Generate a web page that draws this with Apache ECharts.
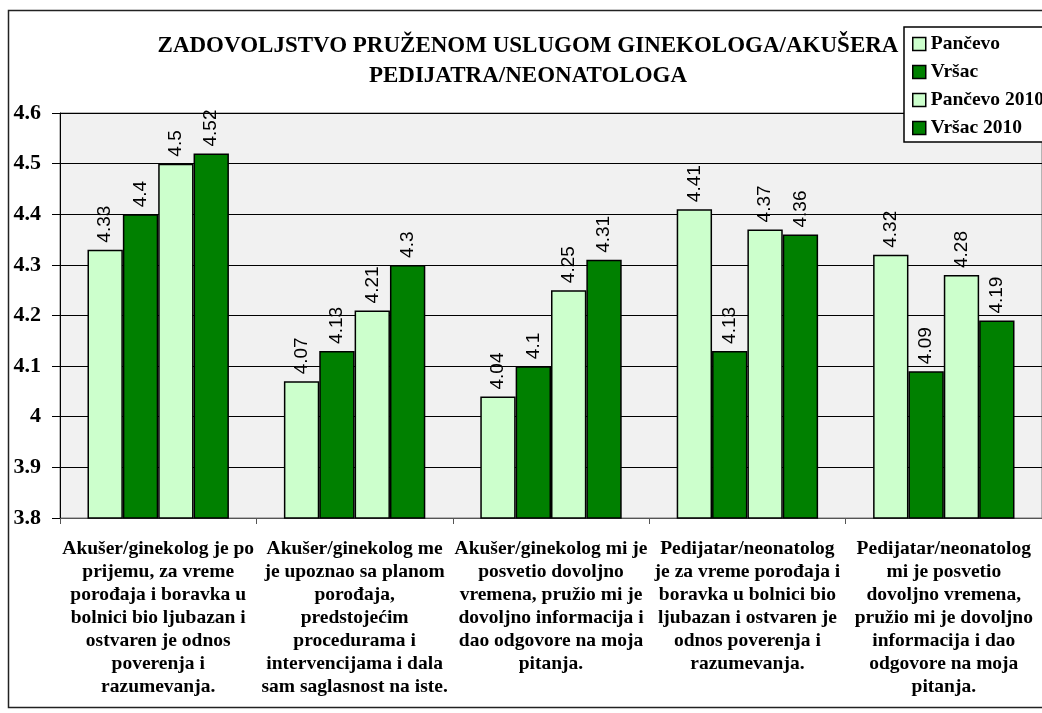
<!DOCTYPE html>
<html>
<head>
    <meta charset="utf-8">
    <title>Zadovoljstvo pruženom uslugom</title>
    <script src="https://cdn.jsdelivr.net/npm/echarts@6/dist/echarts.min.js"></script>
    <style>
        html, body { margin: 0; padding: 0; background: #fff; }
        #main { width: 1042px; height: 713px; }
    </style>
</head>
<body>
<div id="main"></div>
<script>
    var categories = [
        'Akušer/ginekolog je po\nprijemu, za vreme\nporođaja i boravka u\nbolnici bio ljubazan i\nostvaren je odnos\npoverenja i\nrazumevanja.',
        'Akušer/ginekolog me\nje upoznao sa planom\nporođaja,\npredstojećim\nprocedurama i\nintervencijama i dala\nsam saglasnost na iste.',
        'Akušer/ginekolog mi je\nposvetio dovoljno\nvremena, pružio mi je\ndovoljno informacija i\ndao odgovore na moja\npitanja.',
        'Pedijatar/neonatolog\nje za vreme porođaja i\nboravka u bolnici bio\nljubazan i ostvaren je\nodnos poverenja i\nrazumevanja.',
        'Pedijatar/neonatolog\nmi je posvetio\ndovoljno vremena,\npružio mi je dovoljno\ninformacija i dao\nodgovore na moja\npitanja.'
    ];
    var seriesNames = ['Pančevo', 'Vršac', 'Pančevo 2010', 'Vršac 2010'];
    var pancevo = [4.33, 4.07, 4.04, 4.41, 4.32];
    var vrsac = [4.4, 4.13, 4.1, 4.13, 4.09];
    var pancevo2010 = [4.5, 4.21, 4.25, 4.37, 4.28];
    var vrsac2010 = [4.52, 4.3, 4.31, 4.36, 4.19];
    var yTicks = [3.8, 4.6, 0.1]; // min, max, interval

    var serif = '"Liberation Serif", "DejaVu Serif", serif';
    var light = '#ccffcc', dark = '#008000';
    var colors = [light, dark, light, dark];
    var values = [pancevo, vrsac, pancevo2010, vrsac2010];

    var chart = echarts.init(document.getElementById('main'));

    var series = [];
    for (var i = 0; i < seriesNames.length; i++) {
        series.push({
            name: seriesNames[i],
            type: 'bar',
            data: values[i],
            barGap: '0%',
            barCategoryGap: '28%',
            itemStyle: {color: colors[i], borderColor: '#000', borderWidth: 1.5},
            label: {
                show: true,
                position: 'top',
                rotate: 90,
                align: 'left',
                verticalAlign: 'middle',
                distance: 7,
                color: '#000',
                fontFamily: '"Liberation Sans", Arial, sans-serif',
                fontSize: 19
            }
        });
    }

    var option = {
        animation: false,
        backgroundColor: '#fff',
        title: {
            text: 'ZADOVOLJSTVO PRUŽENOM USLUGOM GINEKOLOGA/AKUŠERA\nPEDIJATRA/NEONATOLOGA',
            left: 523,
            top: 26,
            textAlign: 'center',
            textStyle: {fontFamily: serif, fontWeight: 'bold', fontSize: 23, lineHeight: 30, color: '#000'}
        },
        legend: {
            orient: 'vertical',
            left: 904,
            top: 27,
            padding: [7, 40, 4, 8],
            itemWidth: 13,
            itemHeight: 13,
            itemGap: 8,
            icon: 'rect',
            backgroundColor: '#fff',
            borderColor: '#000',
            borderWidth: 1.5,
            itemStyle: {borderColor: '#000', borderWidth: 1.5},
            textStyle: {fontFamily: serif, fontWeight: 'bold', fontSize: 19.5, lineHeight: 20, color: '#000'}
        },
        graphic: [{
            type: 'rect',
            z: -1,
            shape: {x: 8.5, y: 10.5, width: 1100, height: 697},
            style: {fill: null, stroke: '#222', lineWidth: 1.5}
        }],
        grid: {
            left: 60,
            top: 113,
            width: 992,
            height: 405,
            show: true,
            backgroundColor: '#f1f1f1',
            borderColor: '#777',
            borderWidth: 1
        },
        xAxis: {
            type: 'category',
            data: categories,
            axisLine: {lineStyle: {color: '#555', width: 1}},
            axisTick: {show: true, length: 6, lineStyle: {color: '#555'}},
            axisLabel: {
                interval: 0,
                margin: 19,
                fontFamily: serif,
                fontWeight: 'bold',
                fontSize: 19.5,
                lineHeight: 23,
                color: '#000',
                align: 'center',
                verticalAlign: 'top'
            }
        },
        yAxis: {
            type: 'value',
            min: yTicks[0],
            max: yTicks[1],
            interval: yTicks[2],
            axisLine: {show: true, lineStyle: {color: '#000', width: 1}},
            axisTick: {show: true, length: 8, lineStyle: {color: '#000'}},
            splitLine: {show: true, lineStyle: {color: '#000', width: 1}},
            axisLabel: {
                margin: 19,
                fontFamily: serif,
                fontWeight: 'bold',
                fontSize: 22,
                color: '#000'
            }
        },
        series: series
    };

    chart.setOption(option);
</script>
</body>
</html>
